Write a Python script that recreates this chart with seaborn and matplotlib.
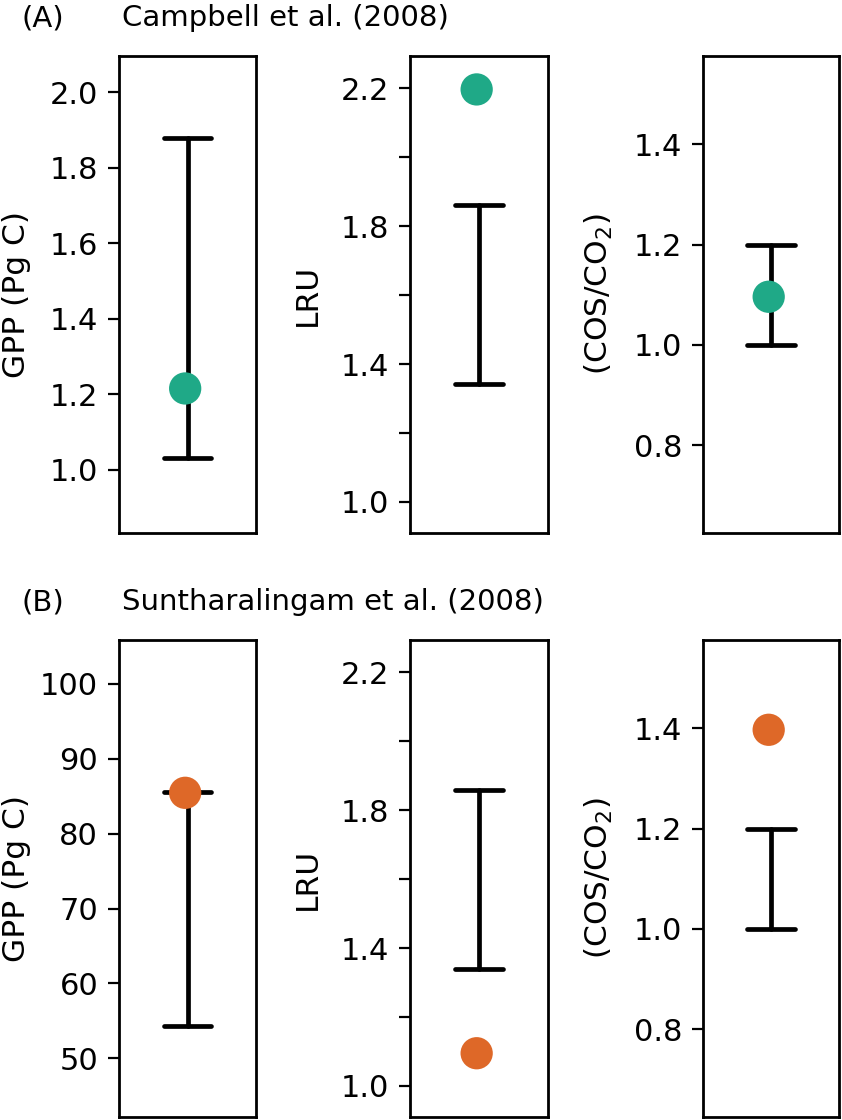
import matplotlib
matplotlib.use("Agg")
import matplotlib.pyplot as plt
import seaborn as sns
import pandas as pd

studies = ["Campbell et al. (2008)", "Suntharalingam et al. (2008)"]
panel_tags = ["(A)", "(B)"]
point_colors = ["#1fa987", "#de6828"]

gpp_low = [1.03, 54.3]
gpp_high = [1.879, 85.6]
gpp_obs = [1.215, 85.45]

lru_low = [1.342, 1.340]
lru_high = [1.861, 1.860]
lru_obs = [2.197, 1.095]

ratio_low = [1.0, 1.0]
ratio_high = [1.2, 1.2]
ratio_obs = [1.096, 1.397]

gpp_ticks = [[1.0, 1.2, 1.4, 1.6, 1.8, 2.0], [50, 60, 70, 80, 90, 100]]
lru_ticks = [1.0, 1.2, 1.4, 1.6, 1.8, 2.0, 2.2]
lru_tick_labels = ["1.0", "", "1.4", "", "1.8", "", "2.2"]
ratio_ticks = [0.8, 1.0, 1.2, 1.4]

ylabels = ["GPP (Pg C)", "LRU", r"(COS/CO$_2$)"]

sns.set_theme(style="ticks")
plt.rcParams["font.family"] = ["DejaVu Sans"]
plt.rcParams["mathtext.fontset"] = "dejavusans"
plt.rcParams["text.color"] = "black"
plt.rcParams["axes.labelcolor"] = "black"

W, H = 842, 1120
fig = plt.figure(figsize=(W / 100, H / 100), dpi=100)

col_left = [119, 410, 703]
col_width = [137, 138, 136]
row_top = [56, 640]
row_height = 477

gpp_lims = [(0.832, 2.096), (42.17, 105.85)]
lru_lim = (0.91, 2.294)
ratio_lim = (0.625, 1.576)

TICK_FS = 22
LABEL_FS = 22.5
TITLE_FS = 21

for r in range(2):
    df = pd.DataFrame({
        "x": [0.483] * 3,
        "obs": [gpp_obs[r], lru_obs[r], ratio_obs[r]],
        "low": [gpp_low[r], lru_low[r], ratio_low[r]],
        "high": [gpp_high[r], lru_high[r], ratio_high[r]],
    })
    for c in range(3):
        ax = fig.add_axes([col_left[c] / W, 1 - (row_top[r] + row_height) / H,
                           col_width[c] / W, row_height / H])
        row = df.iloc[[c]]
        # model range as a capped bar
        ax.vlines(0.5, row["low"], row["high"], color="black", lw=3.4,
                  capstyle="round", zorder=2)
        ax.hlines([row["low"].iloc[0], row["high"].iloc[0]], 0.326, 0.674,
                  color="black", lw=3.4, capstyle="round", zorder=2)
        sns.scatterplot(data=row, x="x", y="obs", ax=ax, s=540,
                        color=point_colors[r], edgecolor="none", zorder=3,
                        legend=False)
        ax.set_xlim(0, 1)
        ax.set_xticks([])
        ax.set_xlabel("")
        if c == 0:
            ax.set_ylim(*gpp_lims[r])
            ax.set_yticks(gpp_ticks[r])
            ax.set_yticklabels([f"{t:.1f}" if r == 0 else f"{t:d}" for t in gpp_ticks[r]])
        elif c == 1:
            ax.set_ylim(*lru_lim)
            ax.set_yticks(lru_ticks)
            ax.set_yticklabels(lru_tick_labels)
        else:
            ax.set_ylim(*ratio_lim)
            ax.set_yticks(ratio_ticks)
            ax.set_yticklabels([f"{t:.1f}" for t in ratio_ticks])
        ax.set_ylabel(ylabels[c], fontsize=LABEL_FS, color="black")
        ax.yaxis.set_label_coords(-88 / col_width[c], 0.5)
        ax.tick_params(axis="y", labelsize=TICK_FS, length=8, width=1.6,
                       pad=7, color="black", labelcolor="black", direction="out")
        for sp in ax.spines.values():
            sp.set_visible(True)
            sp.set_linewidth(2.0)
            sp.set_color("black")

    ty = 1 - (row_top[r] - 38) / H
    fig.text(22 / W, ty, panel_tags[r], fontsize=TITLE_FS, va="center", ha="left")
    fig.text(122 / W, ty, studies[r], fontsize=TITLE_FS, va="center", ha="left")

fig.savefig("out.png", dpi=100, facecolor="white")
